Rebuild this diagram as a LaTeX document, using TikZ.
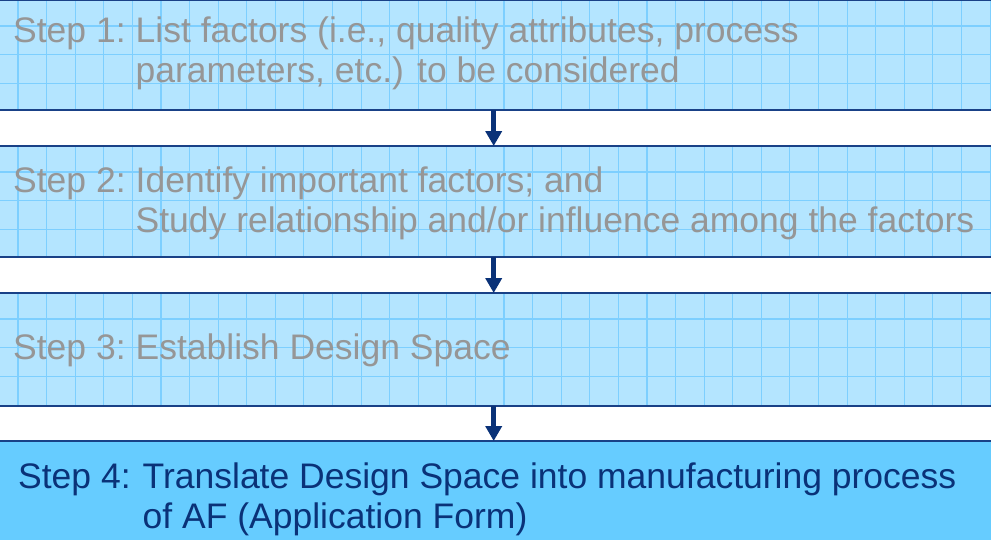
\documentclass[tikz,border=0pt]{standalone}
\usepackage{fontspec}
\setmainfont{Liberation Sans}
\usetikzlibrary{arrows.meta}
\definecolor{gridfill}{RGB}{180,229,255}
\definecolor{gridline}{RGB}{125,207,255}
\definecolor{navy}{RGB}{25,65,135}
\definecolor{arrowblue}{RGB}{10,50,120}
\definecolor{greytext}{RGB}{150,150,150}
\definecolor{stepfourfill}{RGB}{102,204,255}
\definecolor{stepfourtext}{RGB}{10,50,120}
\newcommand\mygrid[2]{%
  \foreach \k in {0,...,34}
    \draw[gridstroke] ({18+28.59*\k},#1) -- ({18+28.59*\k},#1+#2);
  \foreach \k in {0,1,2}
    \draw[gridstroke] (-22,{#1+26+28.59*\k}) -- (1009,{#1+26+28.59*\k});
}
\begin{document}
\begin{tikzpicture}[x=1pt,y=-1pt,
  stepbox/.style={fill=gridfill, minimum width=1031pt, inner sep=0pt, anchor=north west},
  lastbox/.style={fill=stepfourfill, minimum width=1031pt, inner sep=0pt, anchor=north west},
  gridstroke/.style={draw=gridline, line width=1.1pt},
  border/.style={draw=navy, line width=2pt},
  flowarrow/.style={draw=arrowblue, line width=5pt, -{Triangle[width=16pt,length=15pt]}},
  steptext/.style={inner sep=0pt, anchor=base west, text=greytext, font=\fontsize{35.5}{40}\selectfont},
  lasttext/.style={inner sep=0pt, anchor=base west, text=stepfourtext, font=\fontsize{35.5}{40}\selectfont}]
\useasboundingbox (0,0) rectangle (991,539);
\clip (0,0) rectangle (991,539);
\fill[white] (0,0) rectangle (991,539);

% boxes
\node[stepbox, minimum height=110pt] (b1) at (-22,0) {};
\mygrid{0}{110}
\node[stepbox, minimum height=111pt] (b2) at (-22,146) {};
\mygrid{146}{111}
\node[stepbox, minimum height=113pt] (b3) at (-22,293) {};
\mygrid{293}{113}
\node[lastbox, minimum height=120pt] (b4) at (-22,441) {};

% borders
\foreach \b in {b1,b2,b3,b4} {
  \draw[border] (\b.north west) -- (\b.north east);
  \draw[border] (\b.south west) -- (\b.south east);
}

% arrows
\draw[flowarrow] (b1.south) -- (b2.north);
\draw[flowarrow] (b2.south) -- (b3.north);
\draw[flowarrow] (b3.south) -- (b4.north);

% texts
\node[steptext] (t1) at (13,42) {\begin{tabular}[t]{@{}l@{\hspace{10pt}}l@{}}Step 1: & List factors (i.e., quality attributes, process\\ & parameters, etc.) to be considered\end{tabular}};
\node[steptext] (t2) at (13,192) {\begin{tabular}[t]{@{}l@{\hspace{10pt}}l@{}}Step 2: & Identify important factors; and\\ & Study relationship and/or influence among the factors\end{tabular}};
\node[steptext] (t3) at (13,359) {Step 3:\hspace{10pt}Establish Design Space};
\node[lasttext] (t4) at (18,488) {\begin{tabular}[t]{@{}l@{\hspace{12pt}}l@{}}Step 4: & Translate Design Space into manufacturing process\\ & of AF (Application Form)\end{tabular}};
\end{tikzpicture}
\end{document}
